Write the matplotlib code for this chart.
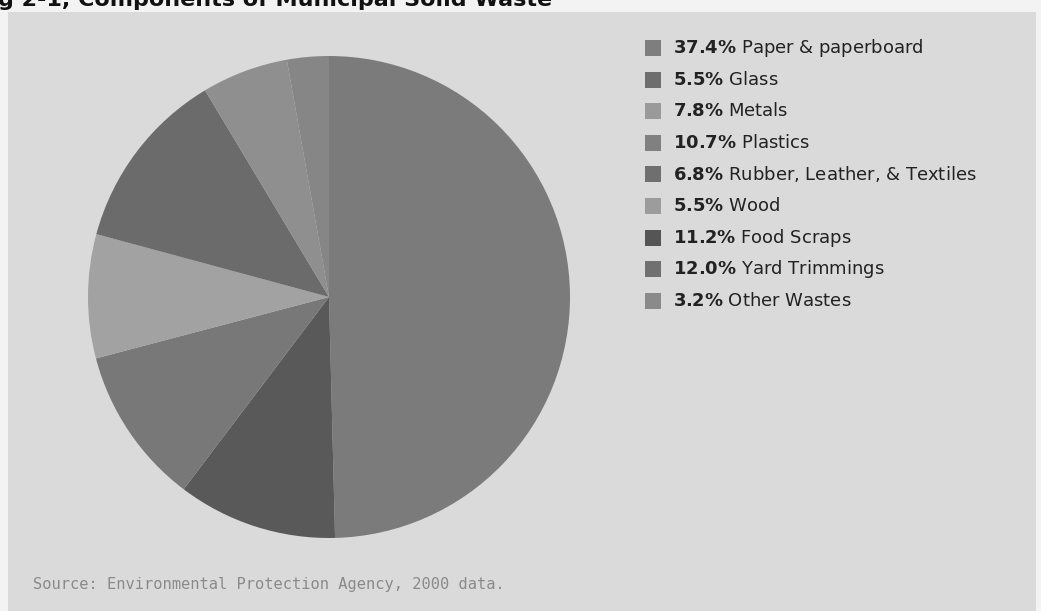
import matplotlib
matplotlib.use('Agg')
import matplotlib.pyplot as plt
from matplotlib.patches import Rectangle

plt.rcParams['font.family'] = 'DejaVu Sans'
plt.rcParams['mathtext.fontset'] = 'dejavusans'

# legend entries (share of municipal solid waste, %)
categories = ['Paper & paperboard', 'Glass', 'Metals', 'Plastics', 'Rubber, Leather, & Textiles',
              'Wood', 'Food Scraps', 'Yard Trimmings', 'Other Wastes']
percent = [37.4, 5.5, 7.8, 10.7, 6.8, 5.5, 11.2, 12.0, 3.2]
legend_colors = ['#7e7e7e', '#6e6e6e', '#9a9a9a', '#808080', '#6f6f6f',
                 '#9c9c9c', '#555555', '#707070', '#8a8a8a']

# wedges as they appear in the scanned pie, clockwise from 12 o'clock (%)
slice_share = [49.6, 10.7, 10.6, 8.3, 12.2, 5.8, 2.8]
slice_colors = ['#7b7b7b', '#595959', '#787878', '#a2a2a2', '#6b6b6b', '#8f8f8f', '#868686']

title = 'g 2-1, Components of Municipal Solid Waste'
source = 'Source: Environmental Protection Agency, 2000 data.'

W, H = 1041, 611
fig = plt.figure(figsize=(W / 100, H / 100), dpi=100, facecolor='#f3f3f3')


def fx(px):
    return px / W


def fy(py):
    return 1 - py / H


# grey scanned panel
fig.add_artist(Rectangle((fx(8), 0), fx(1036) - fx(8), fy(12), transform=fig.transFigure,
                         facecolor='#dadada', edgecolor='none', zorder=0))

# title, cut off by the top of the page
fig.text(fx(-2), fy(6), title, fontsize=16, fontweight='bold', color='#111111', va='baseline')

# pie
cx, cy, r = 329, 297, 241
ax = fig.add_axes([fx(cx - r), fy(cy + r), fx(2 * r), (2 * r) / H])
ax.pie(slice_share, colors=slice_colors, startangle=90, counterclock=False,
       wedgeprops=dict(linewidth=0))
ax.set_aspect('auto')
ax.set_xlim(-1, 1)
ax.set_ylim(-1, 1)
ax.axis('off')

# legend
row0, step = 48, 31.6
for i, (pct, name, c) in enumerate(zip(percent, categories, legend_colors)):
    yc = row0 + i * step
    fig.add_artist(Rectangle((fx(645), fy(yc + 8)), fx(16), 16 / H, transform=fig.transFigure,
                             facecolor=c, edgecolor='none'))
    fig.text(fx(673), fy(yc), r'$\mathbf{%.1f\%%}$ %s' % (pct, name), fontsize=13,
             color='#222222', va='center', ha='left')

fig.text(fx(33), fy(585), source, fontsize=11.1, family='DejaVu Sans Mono', color='#8a8a8a',
         va='center', ha='left')

fig.savefig('out.png', dpi=100, facecolor=fig.get_facecolor())
